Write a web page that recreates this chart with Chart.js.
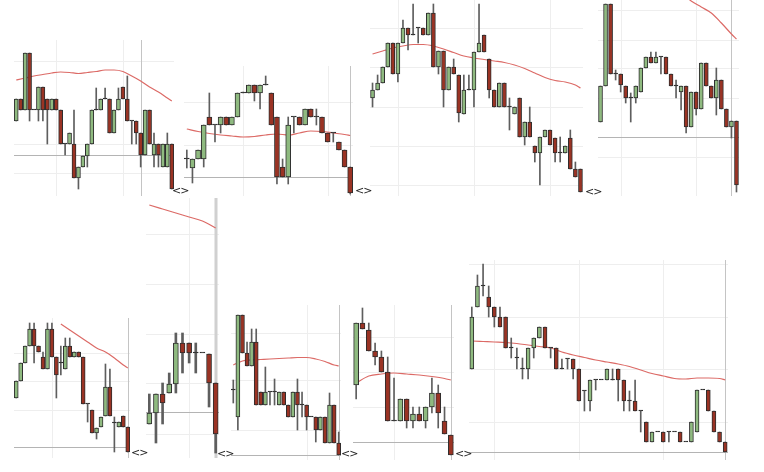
<!DOCTYPE html>
<html><head><meta charset="utf-8">
<script src="https://cdn.jsdelivr.net/npm/chart.js@4"></script>
<style>
html,body{margin:0;padding:0;background:#fff;width:764px;height:472px;overflow:hidden;position:relative;font-family:"DejaVu Sans",sans-serif}
.p{position:absolute}
.m{position:absolute;font-size:11px;color:#222;line-height:11px;letter-spacing:-1px}
</style></head><body>
<script>
// ---- data: each candle is [open, high, low, close] ----
const aOHLC=[[75,97,75,97],[97,97,86,86],[86,143,86,143],[143,143,75,86],[86,86,86,86],[86,109,75,109],[109,109,75,86],[97,97,52,86],[86,97,86,97],[97,97,86,86],[86,86,52,52],[52,52,41,52],[52,63,52,63],[52,86,18,18],[18,29,7,29],[29,40,29,40],[40,52,29,52],[52,86,52,86],[86,108,86,86],[86,97,86,97],[97,108,97,97],[97,97,63,63],[63,86,63,86],[86,108,86,97],[109,109,97,97],[97,120,75,75],[75,75,52,75],[75,75,52,63],[63,63,29,41],[41,86,41,86],[86,86,52,52],[41,63,29,52],[52,52,29,41],[29,52,29,52],[29,63,29,52],[52,52,7,7]];
const aMA=[[0,116],[2,118],[4,120],[6,121.5],[8,123],[10,124],[12,123.5],[14,122.5],[16,123.5],[18,124.5],[20,126],[22,126],[24,124.5],[26,120],[28,115],[30,109],[32,104],[34,98],[35,95]];
const aGrid=[135,52,23];

const bOHLC=[[37,46,28,37],[28,37,13,37],[37,46,37,46],[37,71,29,71],[79,103,71,71],[71,71,54,71],[71,79,63,79],[79,79,71,71],[71,79,71,79],[79,103,79,103],[103,104,103,103],[103,111,103,111],[111,111,95,103],[103,111,87,111],[111,120,111,111],[103,103,71,71],[79,79,12,19],[29,37,19,19],[19,79,12,71],[79,79,63,79],[79,79,71,71],[71,87,71,87],[87,87,79,79],[79,87,71,79],[79,79,63,63],[63,63,54,54],[63,63,54,63],[54,54,46,46],[46,46,29,29],[29,29,2,3]];
const bMA=[[0,67],[2,64.5],[4,62.5],[6,61],[8,60],[10,59],[12,59.5],[14,61],[16,62],[18,61],[20,63],[22,65],[24,64.5],[26,63],[28,61.5],[29,60.5]];
const bGrid=[94,51];

const cOHLC=[[98,113,89,106],[106,121,106,113],[113,129,113,129],[129,153,129,153],[153,153,122,122],[122,153,114,153],[153,176,153,168],[168,168,146,161],[161,192,161,161],[168,168,153,168],[168,168,161,161],[161,183,161,183],[183,192,129,129],[129,145,122,145],[145,145,89,106],[106,129,106,129],[129,137,122,122],[121,121,74,83],[82,121,82,106],[106,121,106,106],[106,144,89,144],[144,192,144,153],[161,161,144,144],[137,137,98,106],[106,106,89,89],[89,113,89,113],[113,113,89,89],[89,98,66,89],[82,89,82,89],[98,98,59,59],[59,74,51,74],[74,89,59,59],[50,50,34,43],[43,59,11,59],[59,66,59,66],[66,66,51,51],[58,58,34,43],[43,59,34,43],[43,50,43,50],[58,66,27,27],[27,34,19,19],[27,27,4,4]];
const cMA=[[0,142],[2,145],[4,148],[6,150],[8,151.5],[10,151.5],[12,150],[14,147],[16,143.5],[18,140],[20,138],[22,136.5],[24,135],[26,133.5],[28,131],[30,127.5],[32,123],[34,118.5],[36,115.5],[38,114],[40,111],[41,108]];
const cGrid=[168,129,89,50,11];

const dOHLC=[[74,110,74,110],[110,192,110,192],[192,192,122,122],[122,126,116,122],[122,122,104,111],[110,110,93,98],[98,103,74,98],[98,110,93,110],[104,128,104,128],[128,139,128,139],[139,144,133,133],[133,144,133,139],[139,139,122,139],[139,139,122,122],[122,122,110,110],[110,116,98,110],[104,110,86,110],[110,110,63,69],[69,104,69,104],[104,104,81,87],[87,133,87,133],[133,133,110,110],[110,110,98,98],[98,128,81,116],[116,116,87,87],[87,87,69,69],[69,75,58,75],[75,75,4,11]];
const dMA=[[17,199],[18,195],[20,189],[22,183],[24,173],[26,162],[27,157]];
const dGrid=[186,156,128,98,39];

const eOHLC=[[60,77,60,77],[77,95,77,95],[95,112,95,112],[112,135,112,129],[129,135,95,112],[112,112,106,106],[101,106,89,89],[89,135,89,129],[129,135,101,101],[101,101,60,83],[95,112,83,95],[89,120,89,112],[112,120,101,101],[101,106,101,106],[106,106,101,101],[101,101,54,54],[54,54,36,54],[48,48,25,25],[25,30,19,30],[31,41,31,41],[42,94,42,71],[71,89,42,42],[35,41,6,35],[31,36,31,36],[42,42,31,31],[31,31,6,6]];
const eMA=[[10,134],[12,128],[14,122],[16,116],[18,110],[20,106],[22,100],[24,93],[25,90]];
const eGrid=[105,77,48];

const fOHLC=[[34,64,34,45],[45,64,15,64],[64,75,34,55],[65,85,65,74],[74,125,65,115],[115,125,85,105],[115,115,95,105],[105,115,85,105],[105,105,105,105],[104,104,51,75],[75,75,5,24]];
const fMA=[[0,253],[2,249],[4,245],[6,241],[8,237],[10,230]];
const fGrid=[224,174,124,75,24];

const gOHLC=[[70,80,57,70],[43,145,30,145],[145,145,107,107],[107,118,94,94],[94,131,94,118],[118,131,55,55],[68,68,55,55],[55,93,55,68],[68,68,55,68],[68,81,55,68],[55,68,55,68],[68,68,55,55],[55,55,43,43],[43,68,43,68],[68,81,30,55],[55,68,43,55],[55,55,30,43],[43,43,43,43],[43,43,18,30],[30,43,30,43],[43,43,17,17],[17,67,17,55],[55,55,17,17],[17,28,5,5]];
const gMA=[[0,95],[2,99],[4,100],[6,100.5],[8,101],[10,101.5],[12,102],[14,102.5],[16,102.5],[18,101],[20,98.5],[22,95],[23,94]];
const gGrid=[127,80,30];

const hOHLC=[[75,137,61,137],[137,152,131,131],[130,137,109,109],[109,117,95,103],[103,109,88,88],[88,103,39,39],[39,82,39,39],[39,61,39,61],[61,61,32,39],[39,53,32,46],[46,53,39,39],[39,53,32,53],[53,82,47,67],[67,75,32,47],[39,53,26,26],[25,25,5,5]];
const hMA=[[0,77],[2,84],[4,86],[6,87],[8,86],[10,85],[12,83.5],[14,81.5],[15,80]];
const hGrid=[123,88,53];

const iOHLC=[[91,153,91,143],[153,185,153,174],[174,196,164,174],[163,174,143,153],[153,153,133,143],[143,153,133,133],[143,143,112,112],[112,122,102,112],[102,112,91,102],[91,102,81,91],[91,112,81,112],[112,122,102,122],[122,133,122,133],[133,133,112,112],[112,112,102,112],[112,112,91,91],[91,101,91,91],[101,101,91,101],[101,101,81,91],[91,91,59,59],[69,69,49,69],[59,80,49,80],[80,80,70,80],[80,80,80,80],[80,91,80,91],[80,91,80,80],[91,91,59,80],[80,80,49,59],[59,69,49,59],[59,80,49,49],[49,49,28,49],[38,38,18,18],[18,28,18,28],[28,28,28,28],[28,28,18,18],[28,28,18,28],[28,28,28,28],[28,28,18,18],[18,18,18,18],[18,38,18,38],[28,70,28,70],[70,70,70,70],[70,70,49,49],[49,49,28,28],[28,28,18,18],[18,18,8,8]];
const iMA=[[0,119],[2,118.5],[4,118],[6,117.5],[8,116.5],[10,115],[12,113.5],[14,112],[16,108],[18,105],[20,102.5],[22,100],[24,98],[26,96],[28,93.5],[30,90],[32,86.5],[34,84],[36,81.5],[38,81],[40,82],[42,82],[44,81.5],[45,80]];
const iGrid=[196,143,91,38];

// reference price levels and marker candle per panel
const refLevels={a:41,b:19,d:59,e:11,f:46,g:5,h:18,i:8};
const markIdx={a:28,b:29,d:26,e:25,f:10,g:23,h:15,i:45};

// ---- layout ----
const panels=[
 {k:'a',o:aOHLC,ma:aMA,grid:aGrid,gx:[9,24],box:[14,40,160,156],bw:4,ww:1},
 {k:'b',o:bOHLC,ma:bMA,grid:bGrid,gx:[10,25],box:[184,66,169,130],bw:5,ww:1},
 {k:'c',o:cOHLC,ma:cMA,grid:cGrid,gx:[5,20,35],box:[370,0,213,196],bw:4,ww:1},
 {k:'d',o:dOHLC,ma:dMA,grid:dGrid,gx:[4,19],box:[598,0,141,196],bw:4,ww:1},
 {k:'e',o:eOHLC,ma:eMA,grid:eGrid,gx:[8],box:[14,318,116,140],bw:4,ww:1},
 {k:'f',o:fOHLC,ma:fMA,grid:fGrid,gx:[6],box:[146,198,73,260],bw:5,ww:2,thick:true},
 {k:'g',o:gOHLC,ma:gMA,grid:gGrid,gx:[16],box:[231,305,110,155],bw:4,ww:1},
 {k:'h',o:hOHLC,ma:hMA,grid:hGrid,gx:[6],box:[353,305,101,155],bw:5,ww:1},
 {k:'i',o:iOHLC,ma:iMA,grid:iGrid,gx:[4,19,34],box:[469,260,259,200],bw:4,ww:1}
];
const markers=[[172,185],[355,185],[585,186],[131,447],[217,448],[341,448],[455,448]];

const GREEN='#8fba80', RED='#9a3324', EDGE='#2e2e2e';

const decor={id:'decor',beforeDatasetsDraw(chart,args,o){
  const {ctx,chartArea:a,scales:{x,y}}=chart;
  ctx.save();ctx.lineWidth=1;ctx.strokeStyle='#eeeeee';
  (o.gridY||[]).forEach(v=>{const py=Math.round(y.getPixelForValue(v))+0.5;ctx.beginPath();ctx.moveTo(a.left,py);ctx.lineTo(a.right,py);ctx.stroke();});
  (o.gridX||[]).forEach(i=>{const px=Math.round(x.getPixelForValue(i))+0.5;ctx.beginPath();ctx.moveTo(px,a.top);ctx.lineTo(px,a.bottom);ctx.stroke();});
  if(o.ref!=null){ctx.strokeStyle='#b4b4b4';const py=Math.round(y.getPixelForValue(o.ref))+0.5;ctx.beginPath();ctx.moveTo(a.left,py);ctx.lineTo(a.right,py);ctx.stroke();}
  if(o.mark!=null){ctx.strokeStyle=o.thick?'#d0d0d0':'#c4c4c4';ctx.lineWidth=o.thick?3:1;const px=Math.round(x.getPixelForValue(o.mark))+(o.thick?0:0.5);ctx.beginPath();ctx.moveTo(px,a.top);ctx.lineTo(px,a.bottom);ctx.stroke();}
  ctx.restore();
}};

panels.forEach(p=>{
  const d=document.createElement('div');d.className='p';
  const [l,t,w,h]=p.box;
  d.style.cssText=`left:${l}px;top:${t}px;width:${w}px;height:${h}px`;
  const cv=document.createElement('canvas');d.appendChild(cv);document.body.appendChild(d);
  const labels=p.o.map((_,i)=>i);
  const wick=p.o.map(c=>c[1]>c[2]?[c[2],c[1]]:null);
  const body=p.o.map(c=>{const lo=Math.min(c[0],c[3]),hi=Math.max(c[0],c[3]);return [lo,Math.max(hi,lo+0.9)];});
  const col=p.o.map(c=>c[3]>c[0]?GREEN:(c[3]<c[0]?RED:EDGE));
  new Chart(cv,{
    data:{labels,datasets:[
      {type:'line',data:p.ma.map(m=>({x:m[0],y:m[1]})),borderColor:'#dc6a66',borderWidth:1.2,pointRadius:0,cubicInterpolationMode:'monotone',order:3,clip:false},
      {type:'bar',data:wick,backgroundColor:'#5e5e5e',barThickness:p.ww,grouped:false,order:2},
      {type:'bar',data:body,backgroundColor:col,borderColor:EDGE,borderWidth:1,borderSkipped:false,barThickness:p.bw,grouped:false,order:1}
    ]},
    options:{responsive:true,maintainAspectRatio:false,animation:false,
      layout:{padding:0},
      plugins:{legend:{display:false},tooltip:{enabled:false},
        decor:{gridY:p.grid,gridX:p.gx,ref:refLevels[p.k],mark:markIdx[p.k],thick:p.thick}},
      scales:{x:{type:'category',display:false,offset:true},
              y:{type:'linear',display:false,min:0,max:h}}
    },
    plugins:[decor]
  });
});
markers.forEach(m=>{const s=document.createElement('span');s.className='m';s.textContent='<>';s.style.left=m[0]+'px';s.style.top=m[1]+'px';document.body.appendChild(s);});
</script>
</body></html>
